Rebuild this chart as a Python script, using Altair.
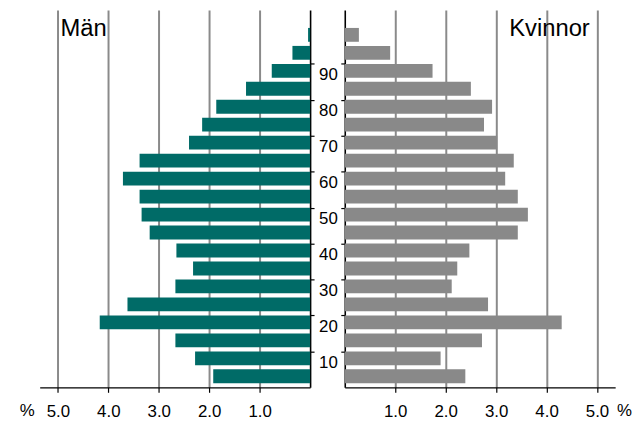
import altair as alt
import pandas as pd

# Age groups (start of 5-year band)
age_start = [0, 5, 10, 15, 20, 25, 30, 35, 40, 45, 50, 55, 60, 65, 70, 75, 80, 85, 90, 95]
# Percent of population
men = [1.92, 2.28, 2.67, 4.17, 3.62, 2.67, 2.32, 2.65, 3.18, 3.34,
       3.38, 3.71, 3.38, 2.40, 2.14, 1.86, 1.27, 0.76, 0.35, 0.04]
women = [2.39, 1.90, 2.72, 4.30, 2.84, 2.12, 2.23, 2.47, 3.43, 3.63,
         3.43, 3.18, 3.35, 3.02, 2.76, 2.92, 2.50, 1.74, 0.90, 0.28]
x_ticks = [1, 2, 3, 4, 5]
age_ticks = [10, 20, 30, 40, 50, 60, 70, 80, 90]
panel_labels = ["Män", "Kvinnor"]

df = pd.DataFrame({"start": age_start, "men": men, "women": women})

GRID = "#8a8a8a"
FONT = "Liberation Sans"


def panel(field, color, label, left_side):
    y_axis = alt.Axis(
        orient="right" if left_side else "left",
        values=age_ticks,
        labels=not left_side,
        labelFontSize=17,
        labelColor="black",
        labelAlign="center",
        labelBaseline="middle",
        labelOffset=11,
        labelPadding=13,
        ticks=True,
        tickSize=4,
        tickColor="black",
        tickWidth=1.2,
        domain=True,
        domainColor="black",
        domainWidth=1.6,
        grid=False,
        title=None,
    )
    x_axis = alt.Axis(
        values=x_ticks,
        format=".1f",
        grid=True,
        gridColor=GRID,
        gridWidth=2,
        domain=True,
        domainColor="black",
        domainWidth=1.4,
        ticks=True,
        tickSize=5,
        tickColor="black",
        tickWidth=1.2,
        labelFontSize=17,
        labelColor="black",
        labelPadding=11,
        title="%",
        titleFontSize=17,
        titleFontWeight="normal",
        titleColor="black",
        titleX=-13 if left_side else 282,
        titleY=28,
        titleAlign="center",
        titleBaseline="alphabetic",
    )
    bars = (
        alt.Chart(df)
        .transform_calculate(top="datum.start + 5", bottom="datum.start + 1.15")
        .mark_rect(color=color)
        .encode(
            x=alt.X(f"{field}:Q", scale=alt.Scale(domain=[0, 5.36], nice=False, reverse=left_side), axis=x_axis),
            x2=alt.datum(0),
            y=alt.Y("top:Q", scale=alt.Scale(domain=[0, 105], nice=False), axis=y_axis),
            y2="bottom:Q",
        )
    )
    text = (
        alt.Chart(pd.DataFrame({"label": [label]}))
        .mark_text(align="left", baseline="alphabetic", fontSize=24, color="black", font=FONT)
        .encode(text="label:N", x=alt.value(21 if left_side else 166), y=alt.value(26))
    )
    return alt.layer(bars, text).properties(width=273, height=381)


left = panel("men", "#006b67", panel_labels[0], True)
right = panel("women", "#898989", panel_labels[1], False)

chart = (
    alt.hconcat(left, right, spacing=35, bounds="flush")
    .properties(padding={"left": 11, "top": 0, "right": 0, "bottom": 0})
    .configure(font=FONT)
    .configure_view(stroke=None)
)

chart.save("out.html", embed_options={"renderer": "svg", "actions": False})
